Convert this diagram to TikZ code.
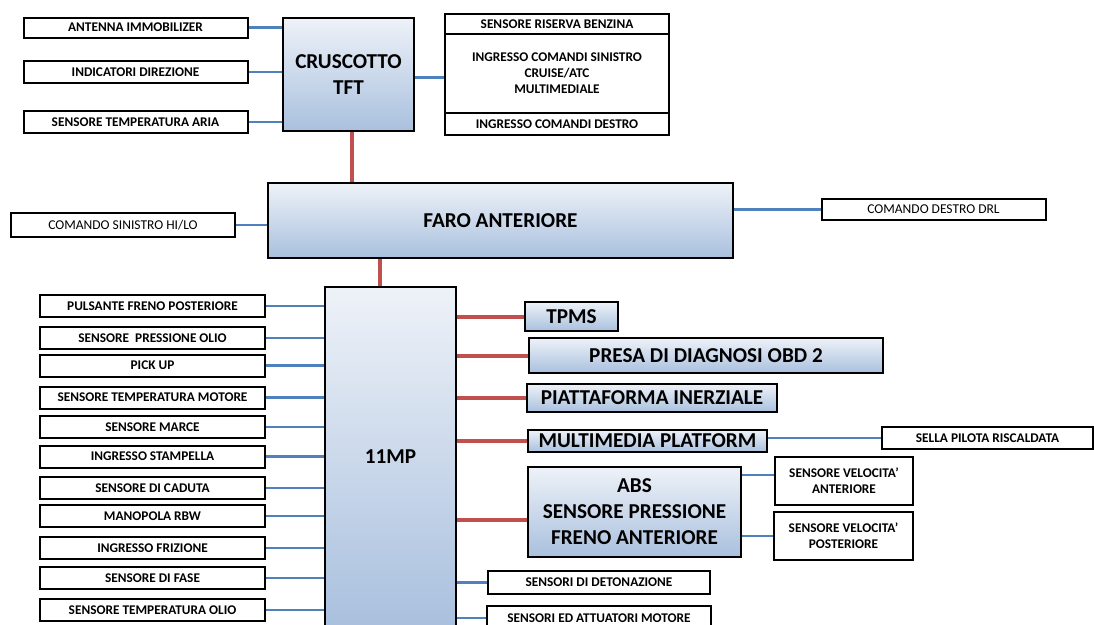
\documentclass[tikz,border=0pt]{standalone}
\usepackage{fontspec}
\setmainfont{Carlito}
\usetikzlibrary{positioning}
\definecolor{canred}{HTML}{C0504D}
\definecolor{wireblue}{HTML}{4F81BD}
\definecolor{ecutop}{HTML}{EEF2F8}
\definecolor{ecubot}{HTML}{A9C0DE}
\tikzset{sens/.style={draw, line width=2pt, fill=white, inner sep=0pt,
    minimum width=224pt, minimum height=22pt,
    font=\bfseries\fontsize{13.3}{16}\selectfont},
  cmd/.style={sens, font=\fontsize{13.5}{16}\selectfont},
  ecu/.style={draw, line width=2.2pt, top color=ecutop, bottom color=ecubot,
    inner sep=0pt, font=\bfseries\fontsize{21.2}{26}\selectfont},
  can/.style={draw=canred, line width=4pt},
  wire/.style={draw=wireblue, line width=2.5pt}}

\begin{document}
\begin{tikzpicture}[x=1pt,y=-1pt]
\useasboundingbox (0,0) rectangle (1094,624);

\node[ecu, minimum width=131pt, minimum height=113pt, align=center] (crus) at (348.5,74.5) {CRUSCOTTO\\TFT};
\node[sens, minimum height=20pt] (ant) at (135.5,27.5) {ANTENNA IMMOBILIZER};
\node[sens] (ind) at (135.5,72) {INDICATORI DIREZIONE};
\node[sens] (aria) at (135.5,122) {SENSORE TEMPERATURA ARIA};
\node[sens, minimum height=20pt] (benz) at (557,24) {SENSORE RISERVA BENZINA};
\node[sens, minimum height=79pt, align=center] (sin) at (557,73.5) {INGRESSO COMANDI SINISTRO\\CRUISE/ATC\\MULTIMEDIALE};
\node[sens] (des) at (557,124) {INGRESSO COMANDI DESTRO};

\node[ecu, minimum width=465pt, minimum height=75pt] (faro) at (500.5,220.5) {FARO ANTERIORE};
\node[cmd, minimum height=24pt] (hilo) at (123,225) {COMANDO SINISTRO HI/LO};
\node[cmd, minimum height=21pt] (drl) at (933.5,209.5) {COMANDO DESTRO DRL};

\node[ecu, minimum width=131pt, minimum height=340pt] (mp) at (390.5,457) {11MP};
\node[sens, minimum width=225pt] (pfp) at (152.5,306) {PULSANTE FRENO POSTERIORE};
\node[sens, minimum width=225pt] (spo) at (152.5,338) {SENSORE\ \ PRESSIONE OLIO};
\node[sens, minimum width=225pt] (pick) at (152.5,365.5) {PICK UP};
\node[sens, minimum width=225pt] (stm) at (152.5,397.5) {SENSORE TEMPERATURA MOTORE};
\node[sens, minimum width=225pt] (marce) at (152.5,427) {SENSORE MARCE};
\node[sens, minimum width=225pt] (stamp) at (152.5,456.5) {INGRESSO STAMPELLA};
\node[sens, minimum width=225pt] (cad) at (152.5,488) {SENSORE DI CADUTA};
\node[sens, minimum width=225pt] (rbw) at (152.5,516) {MANOPOLA RBW};
\node[sens, minimum width=225pt] (friz) at (152.5,548) {INGRESSO FRIZIONE};
\node[sens, minimum width=225pt] (fase) at (152.5,578) {SENSORE DI FASE};
\node[sens, minimum width=225pt] (sto) at (152.5,610) {SENSORE TEMPERATURA OLIO};

\node[ecu, minimum width=93pt, minimum height=29pt] (tpms) at (571.5,316.5) {TPMS};
\node[ecu, minimum width=354pt, minimum height=35pt] (obd) at (706,355.5) {PRESA DI DIAGNOSI OBD 2};
\node[ecu, minimum width=250pt, minimum height=28pt] (piatt) at (652,398) {PIATTAFORMA INERZIALE};
\node[ecu, minimum width=239pt, minimum height=22pt] (multi) at (647.5,441) {MULTIMEDIA PLATFORM};
\node[sens, minimum width=211pt] (sella) at (987.5,438) {SELLA PILOTA RISCALDATA};
\node[ecu, minimum width=213pt, minimum height=90pt, align=center] (abs) at (634.5,512) {ABS\\SENSORE PRESSIONE\\FRENO ANTERIORE};
\node[sens, minimum width=138pt, minimum height=48pt, align=center] (vant) at (844,481) {SENSORE VELOCITA’\\ANTERIORE};
\node[sens, minimum width=139pt, minimum height=48pt, align=center] (vpost) at (843.5,536) {SENSORE VELOCITA’\\POSTERIORE};
\node[sens, minimum width=222pt, minimum height=23pt] (deto) at (599,582.5) {SENSORI DI DETONAZIONE};
\node[sens, minimum height=24pt] (att) at (599,618) {SENSORI ED ATTUATORI MOTORE};

\path[can]
  ([xshift=3pt]crus.south) edge ([xshift=3pt]crus.south |- faro.north);
\path[can]
  ([xshift=-11pt]mp.north) edge ([xshift=-11pt]mp.north |- faro.south);
\foreach \n in {tpms,obd,piatt,multi}
  \path[can] (\n.west) edge (\n.west -| mp.east);
\path[can]
  ([yshift=-8pt]abs.west) edge ([yshift=-8pt]abs.west -| mp.east);

\foreach \n in {ant,ind,aria}
  \path[wire] (\n.east) edge (\n.east -| crus.west);
\path[wire]
  ([yshift=-4pt]sin.west) edge ([yshift=-4pt]sin.west -| crus.east);
\path[wire]
  (hilo.east) edge (hilo.east -| faro.west);
\path[wire]
  (drl.west) edge (drl.west -| faro.east);
\foreach \n in {pfp,spo,pick,stm,marce,stamp,cad,rbw,friz,fase,sto}
  \path[wire] (\n.east) edge (\n.east -| mp.west);
\foreach \n in {deto,att}
  \path[wire] (\n.west) edge (\n.west -| mp.east);
\path[wire]
  (sella.west) edge (sella.west -| multi.east);
\path[wire]
  ([yshift=6pt]vant.west) edge ([yshift=6pt]vant.west -| abs.east);
\path[wire]
  (vpost.west) edge (vpost.west -| abs.east);
\end{tikzpicture}
\end{document}
